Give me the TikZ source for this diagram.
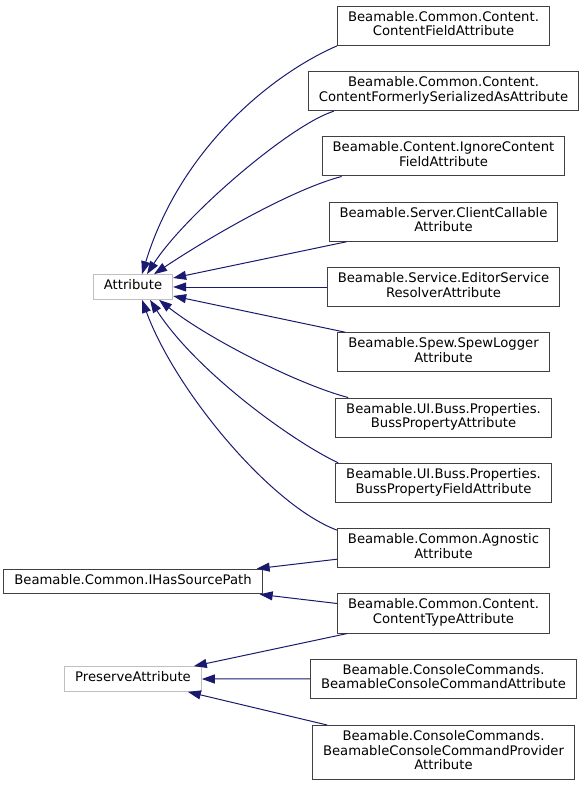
\documentclass[tikz,border=0pt]{standalone}
\usepackage{fontspec}
\setmainfont{DejaVu Sans}
\usepackage{xcolor}
\usepackage{tikz}
\usetikzlibrary{arrows.meta,calc}
\definecolor{edgeblue}{HTML}{191970}
\definecolor{extgray}{HTML}{BFBFBF}
\begin{document}
\begin{tikzpicture}[x=1pt,y=-1pt,
    cls/.style={draw=black!75, line width=1pt, fill=white, align=center, inner xsep=10.5pt, inner ysep=5pt, font=\fontsize{13.2}{14.7}\selectfont, execute at begin node=\strut, execute at end node=\strut},
    ext/.style={cls, draw=extgray},
    inh/.style={draw=edgeblue, line width=1pt, {Triangle[length=13pt,width=9pt]}-}]
      \useasboundingbox (0,0) rectangle (583,786);
      \node [ext] (attr) at (133,287) {Attribute};
      \node [cls] (src) at (133,581.5) {Beamable.Common.IHasSourcePath};
      \node [ext] (pres) at (133,679) {PreserveAttribute};
      \node [cls] (cfield) at (443.5,25.8) {Beamable.Common.Content.\\ContentFieldAttribute};
      \node [cls] (cformer) at (443.5,91.1) {Beamable.Common.Content.\\ContentFormerlySerializedAsAttribute};
      \node [cls] (ignore) at (443.5,156.4) {Beamable.Content.IgnoreContent\\FieldAttribute};
      \node [cls] (clientcall) at (443.5,221.7) {Beamable.Server.ClientCallable\\Attribute};
      \node [cls] (editor) at (443.5,287) {Beamable.Service.EditorService\\ResolverAttribute};
      \node [cls] (spew) at (443.5,352.3) {Beamable.Spew.SpewLogger\\Attribute};
      \node [cls] (bussprop) at (443.5,417.6) {Beamable.UI.Buss.Properties.\\BussPropertyAttribute};
      \node [cls] (bussfield) at (443.5,482.9) {Beamable.UI.Buss.Properties.\\BussPropertyFieldAttribute};
      \node [cls] (agnostic) at (443.5,548.2) {Beamable.Common.Agnostic\\Attribute};
      \node [cls] (ctype) at (443.5,613.5) {Beamable.Common.Content.\\ContentTypeAttribute};
      \node [cls] (cmd) at (443.5,678.8) {Beamable.ConsoleCommands.\\BeamableConsoleCommandAttribute};
      \node [cls] (cmdprov) at (443.5,752.4) {Beamable.ConsoleCommands.\\BeamableConsoleCommandProvider\\Attribute};
      \draw [inh] ($(attr.north)+(9,0)$) .. controls (180,150) and (270,75) .. (cfield.south west);
      \draw [inh] ($(attr.north)+(14,0)$) .. controls (185,215) and (290,125) .. ($(cformer.south west)+(26,0)$);
      \draw [inh] ($(attr.north)+(21,0)$) .. controls (205,240) and (290,190) .. ($(ignore.south west)+(20,0)$);
      \draw [inh] ($(attr.east)+(0,-9)$) -- ($(clientcall.south west)+(18,0)$);
      \draw [inh] (attr.east) -- (editor.west);
      \draw [inh] ($(attr.east)+(0,9)$) -- ($(spew.north west)+(8,0)$);
      \draw [inh] ($(attr.south)+(26,0)$) .. controls (210,340) and (300,385) .. ($(bussprop.north west)+(13,0)$);
      \draw [inh] ($(attr.south)+(17,0)$) .. controls (195,370) and (290,440) .. ($(bussfield.north west)+(3,0)$);
      \draw [inh] ($(attr.south)+(9,0)$) .. controls (175,390) and (270,505) .. ($(agnostic.north west)+(0,2)$);
      \draw [inh] ($(src.north east)+(-6,0)$) -- ($(agnostic.west)+(0,11)$);
      \draw [inh] ($(src.south east)+(-3,0)$) -- ($(ctype.west)+(0,-10)$);
      \draw [inh] ($(pres.north east)+(-8,0)$) -- ($(ctype.south west)+(10,0)$);
      \draw [inh] (pres.east) -- (cmd.west);
      \draw [inh] ($(pres.south east)+(-14,0)$) -- ($(cmdprov.north west)+(15,0)$);
    \end{tikzpicture}
\end{document}
